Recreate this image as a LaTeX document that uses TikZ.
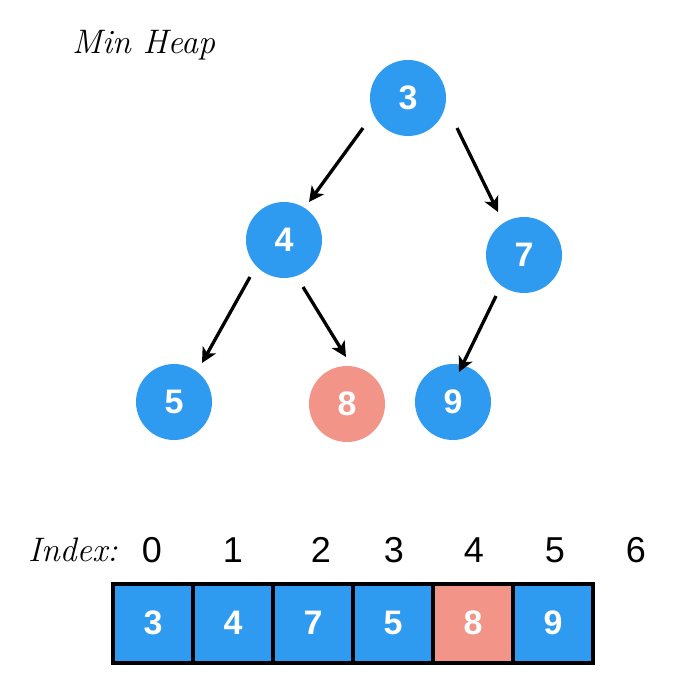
\documentclass[tikz,border=0pt]{standalone}
\usepackage{fontspec}
\setmainfont{Liberation Sans}
\newfontfamily\handfont{Latin Modern Roman}
\usetikzlibrary{arrows.meta}
\definecolor{heapblue}{RGB}{46,154,240}
\definecolor{heapred}{RGB}{242,148,136}
\tikzset{
  hnode/.style={circle,fill=heapblue,minimum size=76pt,inner sep=0pt,text=white,font=\fontsize{34}{34}\selectfont\bfseries},
  hred/.style={hnode,fill=heapred},
  harrow/.style={line width=3.3pt,-{Stealth[length=15pt,width=15pt,inset=4pt]}},
  cellbox/.style={draw=black,line width=4pt,fill=heapblue,minimum width=80pt,minimum height=79pt,inner sep=0pt,text=white,font=\fontsize{34}{34}\selectfont\bfseries},
  idx/.style={font=\fontsize{36}{36}\selectfont,inner sep=0pt},
  hand/.style={font=\handfont\itshape\fontsize{34}{34}\selectfont,anchor=west,inner sep=0pt}
}
\begin{document}
\begin{tikzpicture}[x=1pt,y=-1pt]
\useasboundingbox (0,0) rectangle (699,684);
\node[hand] (title) at (72,45) {Min Heap};
\node[hnode] (n3) at (408,98) {3};
\node[hnode] (n4) at (284,240) {4};
\node[hnode] (n7) at (524,255) {7};
\node[hnode] (n5) at (174,402) {5};
\node[hred] (n8) at (347,404) {8};
\node[hnode] (n9) at (453,402) {9};
\coordinate (a1s) at (363,128); \coordinate (a1e) at (309,202);
\coordinate (a2s) at (457,128); \coordinate (a2e) at (498,212);
\coordinate (a3s) at (250,277); \coordinate (a3e) at (202,363);
\coordinate (a4s) at (303,287); \coordinate (a4e) at (346,357);
\coordinate (a5s) at (496,296); \coordinate (a5e) at (459,372);
\draw[harrow] (a1s) -- (a1e);
\draw[harrow] (a2s) -- (a2e);
\draw[harrow] (a3s) -- (a3e);
\draw[harrow] (a4s) -- (a4e);
\draw[harrow] (a5s) -- (a5e);
\node[hand] (index) at (28,550) {Index:};
\node[idx] (i0) at (152,550) {0};
\node[idx] (i1) at (233,550) {1};
\node[idx] (i2) at (321,550) {2};
\node[idx] (i3) at (394,550) {3};
\node[idx] (i4) at (474,550) {4};
\node[idx] (i5) at (555,550) {5};
\node[idx] (i6) at (636,550) {6};
\node[cellbox] (c0) at (153,623) {3};
\node[cellbox] (c1) at (233,623) {4};
\node[cellbox] (c2) at (313,623) {7};
\node[cellbox] (c3) at (393,623) {5};
\node[cellbox,fill=heapred] (c4) at (473,623) {8};
\node[cellbox] (c5) at (553,623) {9};
\end{tikzpicture}
\end{document}
